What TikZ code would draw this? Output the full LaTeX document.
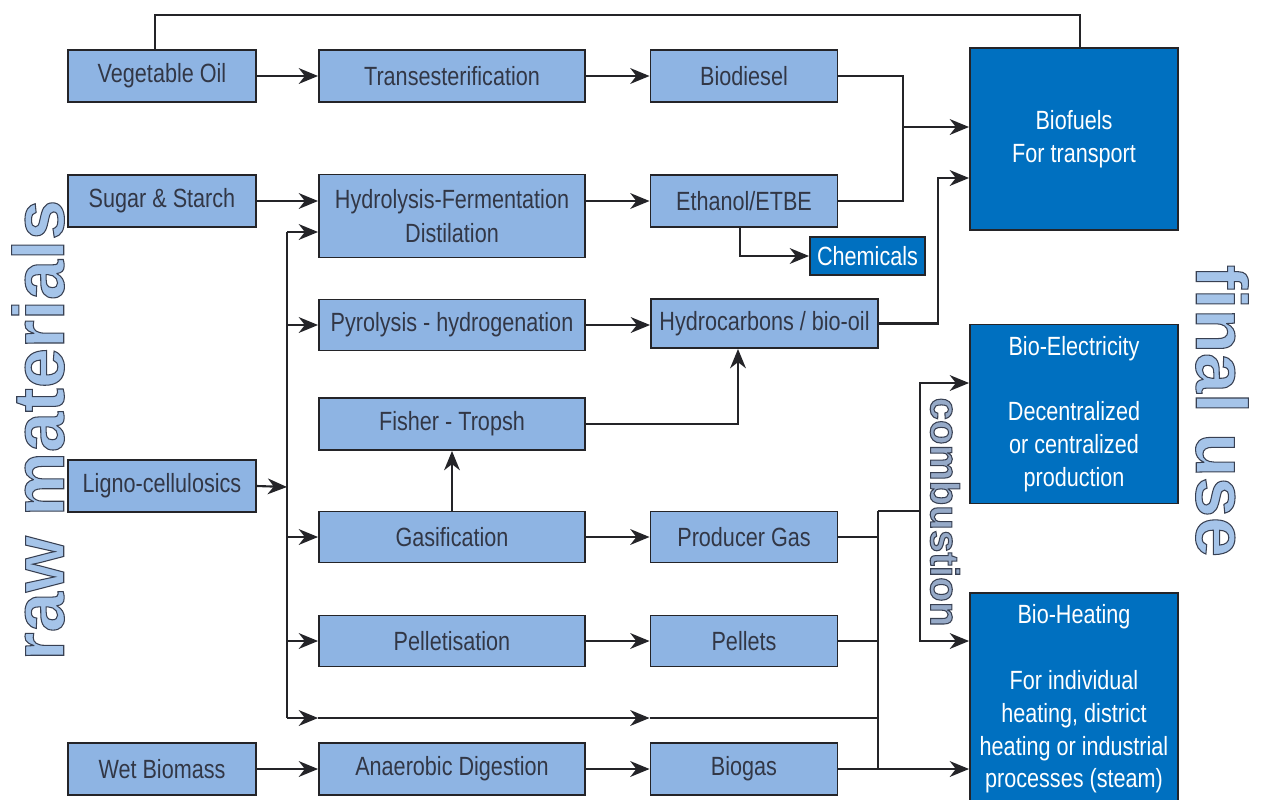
\documentclass[tikz,border=0pt]{standalone}
\usepackage{fontspec}
\setmainfont{Liberation Sans}[FakeStretch=0.82]
\newfontfamily\headfont{Liberation Sans}[BoldFont={* Bold}]
\usetikzlibrary{arrows.meta}

\definecolor{boxlight}{RGB}{142,180,227}
\definecolor{boxdark}{RGB}{0,112,192}
\definecolor{edgegray}{RGB}{36,36,40}
\definecolor{inkgray}{RGB}{50,55,70}
\definecolor{headfill}{RGB}{165,196,233}
\definecolor{combfill}{RGB}{150,170,200}

% hollow lettering: light fill with a dark outline
\newcommand\hollowtext[2]{{\color{#1}\special{pdf:literal direct 2 Tr 0.6 w 0.22 0.25 0.32 RG}#2\special{pdf:literal direct 0 Tr}}}

\tikzset{
  stage/.style={draw=edgegray, line width=1.1pt, fill=boxlight, text=inkgray,
    inner sep=0pt, align=center, font=\fontsize{15}{19}\selectfont},
  rawbox/.style={stage, minimum width=3.76cm, minimum height=1.04cm},
  procbox/.style={stage, minimum width=5.32cm, minimum height=1.04cm},
  prodbox/.style={stage, minimum width=3.74cm, minimum height=1.04cm},
  usebox/.style={draw=edgegray, line width=1.1pt, fill=boxdark, text=white,
    inner sep=0pt, align=center, minimum width=4.16cm,
    font=\fontsize{15}{18.7}\selectfont},
  flow/.style={line width=1.2pt, draw=edgegray},
  arr/.style={flow, -{Stealth[length=11pt,width=9pt,inset=3.5pt]}},
  headlabel/.style={inner sep=0pt, font=\headfont\bfseries\fontsize{41}{41}\selectfont}
}

\begin{document}
\begin{tikzpicture}[x=0.02cm, y=-0.02cm]
\useasboundingbox (0,0) rectangle (1262,799);

% raw materials
\node[rawbox] (veg)   at (162,76)  {Vegetable Oil};
\node[rawbox] (sugar) at (162,201) {Sugar \& Starch};
\node[rawbox] (ligno) at (162,486) {Ligno-cellulosics};
\node[rawbox] (wet)   at (162,769) {Wet Biomass};

% conversion routes
\node[procbox] (trans)  at (452,76)  {Transesterification};
\node[procbox, minimum height=1.66cm] (hydro) at (452,216) {Hydrolysis-Fermentation\\Distilation};
\node[procbox, minimum height=1.02cm] (pyro) at (452,325) {Pyrolysis - hydrogenation};
\node[procbox] (fisher) at (452,424) {Fisher - Tropsh};
\node[procbox, minimum height=1.02cm] (gasif) at (452,537) {Gasification};
\node[procbox, minimum height=1.02cm] (pellet) at (452,641) {Pelletisation};
\node[procbox] (anaer)  at (452,769) {Anaerobic Digestion};

% intermediate products
\node[prodbox] (biodiesel) at (744,76)  {Biodiesel};
\node[prodbox] (ethanol)   at (744,201) {Ethanol/ETBE};
\node[stage, minimum width=4.54cm, minimum height=0.98cm] (hydrocarb) at (764.5,323.5) {Hydrocarbons / bio-oil};
\node[prodbox, minimum height=1.02cm] (producer) at (744,537) {Producer Gas};
\node[prodbox, minimum height=1.02cm] (pellets)  at (744,641) {Pellets};
\node[prodbox] (biogas)    at (744,769) {Biogas};
\node[usebox, minimum width=2.3cm, minimum height=0.76cm] (chem) at (867.5,256) {Chemicals};

% final use
\node[usebox, minimum height=3.64cm] (biofuels) at (1074,139) {Biofuels\\For transport};
\node[usebox, minimum height=3.58cm] (bioelec) at (1074,414) {Bio-Electricity\\[18.7pt]Decentralized\\or centralized\\production};
\node[usebox, minimum height=4.24cm] (bioheat) at (1074,699) {Bio-Heating\\[18.7pt]For individual\\heating, district\\heating or industrial\\processes (steam)};

% side headings
\node[headlabel, rotate=90] (rawlbl) at (38,430) {\hollowtext{headfill}{raw materials}};
\node[headlabel, rotate=-90] (uselbl) at (1222,411) {\hollowtext{headfill}{final use}};
\node[headlabel, rotate=-90, font=\headfont\bfseries\fontsize{23}{23}\selectfont] (comblbl) at (945,512) {\hollowtext{combfill}{combustion}};

% junction points
\coordinate (topline) at (600,15);
\coordinate (jbf) at (903,127);
\coordinate (jhc) at (938,178);
\coordinate (bus) at (287,487);
\coordinate (bustop) at (287,232);
\coordinate (busbot) at (287,718);
\coordinate (jv) at (878,511);
\coordinate (jc) at (920,511);

% oil route
\draw[flow] ([xshift=-0.14cm]veg.north) |- (topline) -| ([xshift=0.12cm]biofuels.north);
\draw[arr] (veg) -- (trans);
\draw[arr] (trans) -- (biodiesel);
\draw[flow] (biodiesel.east) -| (jbf) |- (ethanol.east);
\draw[arr] (jbf) -- (jbf -| biofuels.west);

% sugar route
\draw[arr] (sugar.east) -- (sugar.east -| hydro.west);
\draw[arr] (sugar.east -| hydro.east) -- (ethanol.west);
\draw[arr] ([xshift=-0.08cm]ethanol.south) |- (chem.west);

% ligno-cellulosic routes
\draw[arr] (ligno.east) -- (bus);
\draw[flow] (bustop) -- (busbot);
\draw[arr] (bustop) -- (bustop -| hydro.west);
\draw[arr] (bustop |- pyro.west) -- (pyro.west);
\draw[arr] (bustop |- gasif.west) -- (gasif.west);
\draw[arr] (bustop |- pellet.west) -- (pellet.west);
\draw[arr] (busbot) -- (busbot -| anaer.west);
\draw[arr] (busbot -| anaer.west) -- (busbot -| biogas.west);
\draw[flow] (busbot -| biogas.west) -- (busbot -| jv);

\draw[arr] (pyro) -- (pyro.east -| hydrocarb.west);
\draw[arr] (hydrocarb.east) -| (jhc) -- (jhc -| biofuels.west);
\draw[arr] (gasif) -- (fisher);
\draw[arr] (fisher.east) -| ([xshift=-0.53cm]hydrocarb.south);
\draw[arr] (gasif) -- (producer);
\draw[arr] (pellet) -- (pellets);

% wet biomass route
\draw[arr] (wet) -- (anaer);
\draw[arr] (anaer) -- (biogas);

% heat and power collection
\draw[flow] (producer.east) -- (producer.east -| jv);
\draw[flow] (pellets.east) -- (pellets.east -| jv);
\draw[flow] (jv) -- (jv |- biogas.east);
\draw[arr] (biogas.east) -- (bioheat.west |- biogas.east);
\draw[flow] (jv) -- (jc);
\draw[arr] (jc) |- ([yshift=0.62cm]bioelec.west);
\draw[arr] (jc) |- ([yshift=1.16cm]bioheat.west);
\end{tikzpicture}
\end{document}
